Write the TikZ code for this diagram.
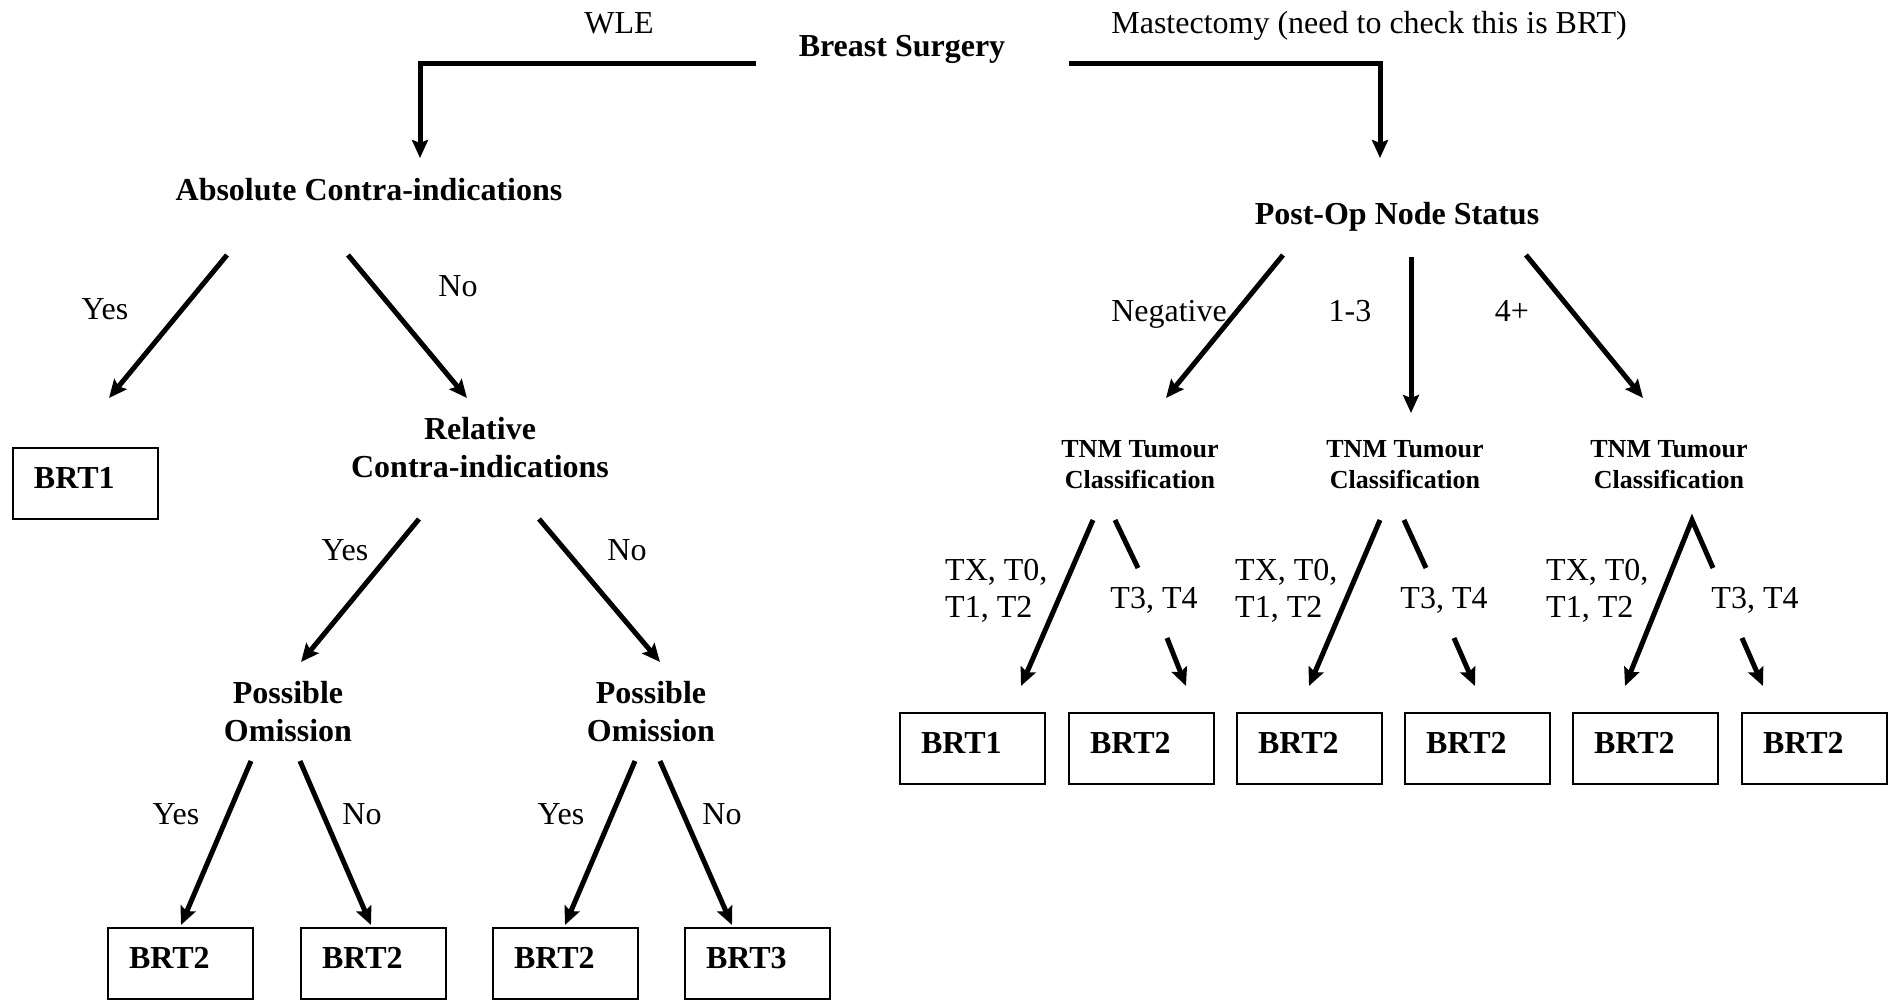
\documentclass[tikz,border=0pt]{standalone}
\usepackage{fontspec}
\setmainfont{Liberation Serif}
\usetikzlibrary{arrows.meta}
\begin{document}
\begin{tikzpicture}[x=1pt,y=-1pt,
  conn/.style={line width=5pt, line join=miter, -{Stealth[length=18pt,width=16pt,inset=3pt]}},
  rconn/.style={line width=5pt, line join=miter, {Stealth[length=18pt,width=16pt,inset=3pt]}-},
  seg/.style={line width=5pt},
  lbl/.style={font=\fontsize{32}{37}\selectfont, inner sep=0pt, anchor=base},
  lbltwo/.style={font=\fontsize{32}{37}\selectfont, inner sep=0pt, align=left, anchor=west},
  hd/.style={font=\fontsize{32}{38.5}\selectfont\bfseries, inner sep=0pt, align=center},
  tnm/.style={font=\fontsize{26}{31}\selectfont\bfseries, inner sep=0pt, align=center},
  brt/.style={draw, line width=2pt, font=\fontsize{32}{38}\selectfont\bfseries,
    text width=103pt, align=left, inner xsep=21pt, inner ysep=0pt,
    text height=40pt, text depth=31pt, anchor=north west},
]
\fill[white] (0,0) rectangle (1896,999);
\useasboundingbox (0,0) rectangle (1896,999);

% ---------- top ----------
\node[lbl] (wle) at (619,33) {WLE};
\node[lbl] (mast) at (1369,33) {Mastectomy (need to check this is BRT)};
\node[hd, anchor=base] (bs) at (902,56) {Breast Surgery};

\coordinate (bsL) at (756,63);
\coordinate (bsLc) at (420,63);
\coordinate (absTop) at (420,158);
\coordinate (bsR) at (1069,63);
\coordinate (bsRc) at (1380,63);
\coordinate (postTop) at (1380,158);
\draw[conn] (bsL) -- (bsLc) -- (absTop);
\draw[conn] (bsR) -- (bsRc) -- (postTop);

% ---------- left tree ----------
\node[hd, anchor=base] (abs) at (369,200) {Absolute Contra-indications};
\node[lbl] (absyes) at (105,319) {Yes};
\node[lbl] (absno) at (458,296) {No};
\coordinate (a1s) at (227,255); \coordinate (a1e) at (109,398);
\coordinate (a2s) at (348,255); \coordinate (a2e) at (467,398);
\draw[conn] (a1s) -- (a1e);
\draw[conn] (a2s) -- (a2e);

\node[brt] (brtA) at (12,447) {BRT1};

\node[hd] (rel) at (480,447.5) {Relative\\Contra-indications};
\node[lbl] (relyes) at (345,560) {Yes};
\node[lbl] (relno) at (627,560) {No};
\coordinate (r1s) at (419,519); \coordinate (r1e) at (301,662);
\coordinate (r2s) at (539,519); \coordinate (r2e) at (660,662);
\draw[conn] (r1s) -- (r1e);
\draw[conn] (r2s) -- (r2e);

\node[hd] (po1) at (288,711.5) {Possible\\Omission};
\node[hd] (po2) at (651,711.5) {Possible\\Omission};
\node[lbl] (p1yes) at (176,824) {Yes};
\node[lbl] (p1no) at (362,824) {No};
\node[lbl] (p2yes) at (561,824) {Yes};
\node[lbl] (p2no) at (722,824) {No};
\coordinate (p1ys) at (251,761); \coordinate (p1ye) at (181,925);
\coordinate (p1ns) at (300,761); \coordinate (p1ne) at (371,925);
\coordinate (p2ys) at (635,761); \coordinate (p2ye) at (565,925);
\coordinate (p2ns) at (660,761); \coordinate (p2ne) at (732,925);
\draw[conn] (p1ys) -- (p1ye);
\draw[conn] (p1ns) -- (p1ne);
\draw[conn] (p2ys) -- (p2ye);
\draw[conn] (p2ns) -- (p2ne);

\node[brt] (brtB) at (107,927) {BRT2};
\node[brt] (brtC) at (300,927) {BRT2};
\node[brt] (brtD) at (492,927) {BRT2};
\node[brt] (brtE) at (684,927) {BRT3};

% ---------- right tree ----------
\node[hd, anchor=base] (post) at (1397,224) {Post-Op Node Status};
\node[lbl] (neg) at (1169,321) {Negative};
\node[lbl] (one) at (1350,321) {1-3};
\node[lbl] (four) at (1512,321) {4+};
\coordinate (n1s) at (1283,255); \coordinate (n1e) at (1166,398);
\coordinate (n2s) at (1411,257); \coordinate (n2e) at (1411,413);
\coordinate (n3s) at (1526,255); \coordinate (n3e) at (1643,398);
\draw[conn] (n1s) -- (n1e);
\draw[conn] (n2s) -- (n2e);
\draw[conn] (n3s) -- (n3e);

\node[tnm] (tnm1) at (1140,464.5) {TNM Tumour\\Classification};
\node[tnm] (tnm2) at (1405,464.5) {TNM Tumour\\Classification};
\node[tnm] (tnm3) at (1669,464.5) {TNM Tumour\\Classification};

\node[lbltwo] (tx1) at (945,591) {TX, T0,\\T1, T2};
\node[lbltwo] (tx2) at (1235,591) {TX, T0,\\T1, T2};
\node[lbltwo] (tx3) at (1546,591) {TX, T0,\\T1, T2};
\node[lbl] (t31) at (1154,608) {T3, T4};
\node[lbl] (t32) at (1444,608) {T3, T4};
\node[lbl] (t33) at (1755,608) {T3, T4};

% TNM 1
\coordinate (t1ls) at (1093,520); \coordinate (t1le) at (1021,686);
\coordinate (t1ss) at (1115,520); \coordinate (t1se) at (1138,568);
\coordinate (t1as) at (1167,638); \coordinate (t1ae) at (1186,686);
\draw[conn] (t1ls) -- (t1le);
\draw[seg] (t1ss) -- (t1se);
\draw[conn] (t1as) -- (t1ae);
% TNM 2
\coordinate (t2ls) at (1380,520); \coordinate (t2le) at (1309,686);
\coordinate (t2ss) at (1404,520); \coordinate (t2se) at (1426,568);
\coordinate (t2as) at (1454,638); \coordinate (t2ae) at (1475,686);
\draw[conn] (t2ls) -- (t2le);
\draw[seg] (t2ss) -- (t2se);
\draw[conn] (t2as) -- (t2ae);
% TNM 3
\coordinate (t3apex) at (1692,520); \coordinate (t3le) at (1625,686);
\coordinate (t3se) at (1713,568);
\coordinate (t3as) at (1742,638); \coordinate (t3ae) at (1763,686);
\draw[rconn] (t3le) -- (t3apex) -- (t3se);
\draw[conn] (t3as) -- (t3ae);

\node[brt] (brtF) at (899,712) {BRT1};
\node[brt] (brtG) at (1068,712) {BRT2};
\node[brt] (brtH) at (1236,712) {BRT2};
\node[brt] (brtI) at (1404,712) {BRT2};
\node[brt] (brtJ) at (1572,712) {BRT2};
\node[brt] (brtK) at (1741,712) {BRT2};
\end{tikzpicture}
\end{document}
